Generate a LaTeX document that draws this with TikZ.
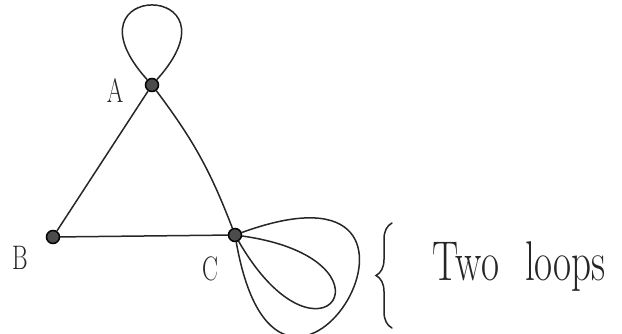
\documentclass[tikz,border=0pt]{standalone}
\usepackage{fontspec}
\newfontfamily\handfont{Latin Modern Roman}[FakeStretch=0.7]
\newfontfamily\notefont{Latin Modern Roman}[FakeStretch=0.7]
\usetikzlibrary{decorations.pathreplacing}

\begin{document}
\begin{tikzpicture}[
  x=1pt, y=1pt,
  line width=1.5pt,
  every node/.style={text=black!85},
  vertex/.style={circle, draw, fill=black!70, inner sep=0pt, minimum size=13pt},
  lbl/.style={font=\handfont\fontsize{34}{40}\selectfont, inner sep=0pt},
  note/.style={font=\notefont\fontsize{56}{64}\selectfont, anchor=base west, inner sep=0pt},
  link/.style={draw=black!85, line cap=round}
]
  \useasboundingbox (0,0) rectangle (622,333);

  % vertices
  \node[vertex] (A) at (152,248) {};
  \node[vertex] (B) at (53,96) {};
  \node[vertex] (C) at (235,98) {};
  \node[lbl] (la) at (115,243) {A};
  \node[lbl] (lb) at (20,75) {B};
  \node[lbl] (lc) at (210,64) {C};

  % edges
  \draw[link] (A) -- (B);
  \draw[link] (A) to[bend left=8] (C);
  \draw[link] (B) -- (C);

  % loops
  \draw[link] (A) to[out=132, in=48, distance=134pt] (A);
  \draw[link] (C) to[out=20, in=-80, distance=260pt] (C);
  \draw[link] (C) to[out=-8, in=-60, distance=165pt] (C);

  % brace and remark
  \coordinate (bb) at (392,5);
  \coordinate (bt) at (392,110);
  \draw[link, decorate, decoration={brace, amplitude=16pt}] (bb) -- (bt);
  \node[note] (two) at (432,53) {Two\hspace{26pt}loops};
\end{tikzpicture}
\end{document}
